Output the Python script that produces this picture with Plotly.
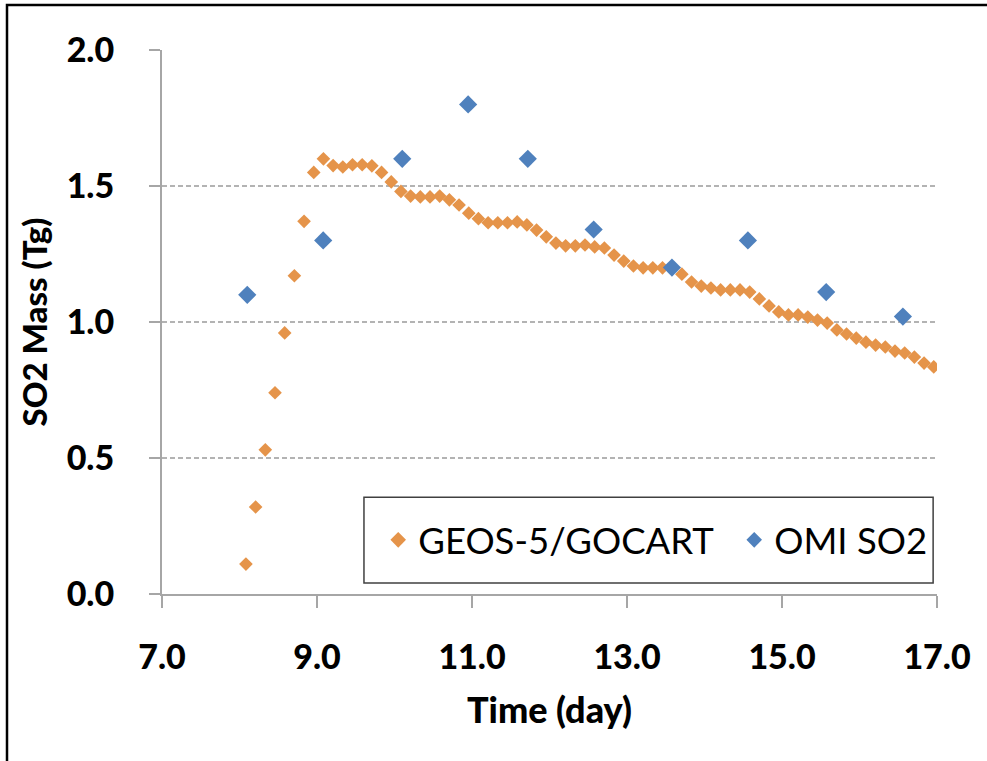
import plotly.graph_objects as go

# GEOS-5/GOCART modelled SO2 mass, 3-hourly output (day, Tg)
geos_time = [
    8.083, 8.208, 8.333, 8.458, 8.583, 8.708, 8.833, 8.958,
    9.083, 9.208, 9.333, 9.458, 9.583, 9.708, 9.833, 9.958,
    10.083, 10.208, 10.333, 10.458, 10.583, 10.708, 10.833, 10.958,
    11.083, 11.208, 11.333, 11.458, 11.583, 11.708, 11.833, 11.958,
    12.083, 12.208, 12.333, 12.458, 12.583, 12.708, 12.833, 12.958,
    13.083, 13.208, 13.333, 13.458, 13.583, 13.708, 13.833, 13.958,
    14.083, 14.208, 14.333, 14.458, 14.583, 14.708, 14.833, 14.958,
    15.083, 15.208, 15.333, 15.458, 15.583, 15.708, 15.833, 15.958,
    16.083, 16.208, 16.333, 16.458, 16.583, 16.708, 16.833, 16.958,
]
geos_mass = [
    0.11, 0.32, 0.53, 0.74, 0.96, 1.17, 1.37, 1.55,
    1.60, 1.575, 1.57, 1.578, 1.578, 1.574, 1.55, 1.515,
    1.48, 1.463, 1.46, 1.46, 1.463, 1.449, 1.43, 1.40,
    1.38, 1.365, 1.365, 1.365, 1.368, 1.357, 1.338, 1.313,
    1.29, 1.28, 1.28, 1.283, 1.276, 1.272, 1.246, 1.224,
    1.206, 1.199, 1.199, 1.199, 1.199, 1.176, 1.147, 1.132,
    1.125, 1.118, 1.118, 1.118, 1.11, 1.085, 1.059, 1.037,
    1.026, 1.026, 1.018, 1.007, 0.996, 0.971, 0.956, 0.941,
    0.926, 0.915, 0.908, 0.893, 0.886, 0.871, 0.849, 0.835,
]

# OMI retrieved SO2 mass at overpass times
omi_time = [8.10, 9.08, 10.10, 10.95, 11.72, 12.57, 13.58, 14.56, 15.57, 16.56]
omi_mass = [1.10, 1.30, 1.60, 1.80, 1.60, 1.34, 1.20, 1.30, 1.11, 1.02]

x_ticks = [7, 9, 11, 13, 15, 17]
y_ticks = [0.0, 0.5, 1.0, 1.5, 2.0]

ORANGE = "#E5944A"
BLUE = "#4F81BD"
AXIS_GREY = "#A6A6A6"
FONT = "Lato"

fig = go.Figure()
fig.add_trace(go.Scatter(
    x=geos_time, y=geos_mass, mode="markers", name="GEOS-5/GOCART",
    marker=dict(symbol="diamond", size=10.5, color=ORANGE, line=dict(width=0)),
))
fig.add_trace(go.Scatter(
    x=omi_time, y=omi_mass, mode="markers", name="OMI SO2",
    marker=dict(symbol="diamond", size=14, color=BLUE, line=dict(width=0)),
))

fig.update_layout(
    width=987, height=761,
    margin=dict(l=162, r=50, t=50, b=167, autoexpand=False),
    paper_bgcolor="white", plot_bgcolor="white",
    showlegend=True,
    legend=dict(
        orientation="h", x=0.279, y=0.099, xanchor="left", yanchor="middle",
        bgcolor="rgba(0,0,0,0)", borderwidth=0,
        font=dict(family=FONT, size=36.5, color="black"),
        itemsizing="constant", entrywidth=311, entrywidthmode="pixels",
    ),
    xaxis=dict(
        range=[7, 17], tickvals=x_ticks, tickformat=".1f",
        showgrid=False, zeroline=False,
        showline=True, linecolor=AXIS_GREY, linewidth=2,
        ticks="outside", ticklen=12, tickwidth=2, tickcolor=AXIS_GREY,
        ticklabelstandoff=20,
        tickfont=dict(family=FONT, size=34, color="black", weight=900),
        title=dict(text="Time (day)", standoff=23,
                   font=dict(family=FONT, size=36, color="black", weight=900)),
    ),
    yaxis=dict(
        range=[0, 2], tickvals=y_ticks, tickformat=".1f",
        showgrid=True, gridcolor="#B3B3B3", gridwidth=2, griddash="5px,3px",
        zeroline=False,
        showline=True, linecolor=AXIS_GREY, linewidth=2,
        ticks="outside", ticklen=11, tickwidth=2, tickcolor=AXIS_GREY,
        ticklabelstandoff=28,
        tickfont=dict(family=FONT, size=34, color="black", weight=900),
        title=dict(text="SO2 Mass (Tg)", standoff=9,
                   font=dict(family=FONT, size=33, color="black", weight=900)),
    ),
    shapes=[
        # legend frame
        dict(type="rect", xref="paper", yref="paper",
             x0=0.2606, x1=0.995, y0=0.020, y1=0.178,
             line=dict(color="#404040", width=1.5), fillcolor="rgba(0,0,0,0)"),
        # outer frame around the whole figure
        dict(type="rect", xref="paper", yref="paper",
             x0=-0.2, x1=1.075, y0=-0.33, y1=1.0827,
             line=dict(color="black", width=2.5), fillcolor="rgba(0,0,0,0)"),
    ],
)

fig.write_html("out.html")
